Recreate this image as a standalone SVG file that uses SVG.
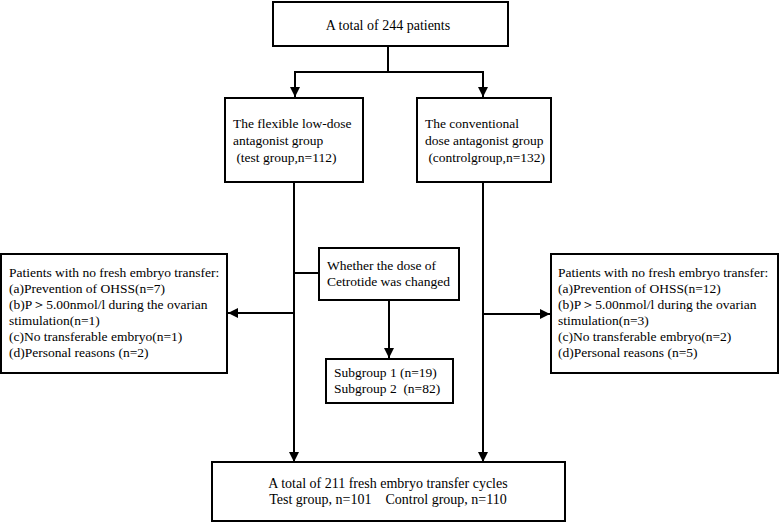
<svg xmlns="http://www.w3.org/2000/svg" width="780" height="523" viewBox="0 0 780 523">
<defs>
<marker id="ah" viewBox="0 0 10 10" refX="10" refY="5" markerWidth="11" markerHeight="10" markerUnits="userSpaceOnUse" orient="auto">
<path d="M0,0 L10,5 L0,10 z" fill="#000"/>
</marker>
</defs>
<style>
rect{fill:#fff;stroke:#000;stroke-width:2}
text{font-family:"Liberation Serif","Times New Roman",serif;font-size:13.5px;fill:#000;white-space:pre}
.c{text-anchor:middle}
.ln{stroke:#000;stroke-width:2;fill:none}
.ar{stroke:#000;stroke-width:2;fill:none;marker-end:url(#ah)}
</style>
<g id="connectors">
<path class="ln" d="M388,46 V72 M295,72 H483"/>
<path class="ar" d="M295,71 V97"/>
<path class="ar" d="M483,71 V97"/>
<path class="ar" d="M294,182 V462"/>
<path class="ar" d="M483,182 V462"/>
<path class="ar" d="M294,313 H228"/>
<path class="ar" d="M483,314 H550"/>
<path class="ln" d="M294,273 H319"/>
<path class="ar" d="M389,300 V358"/>
</g>
<g id="n-total">
<rect x="273" y="2" width="235" height="44"/>
<text class="c" x="388" y="30" style="font-size:14px">A total of 244 patients</text>
</g>
<g id="n-test">
<rect x="225" y="98" width="138" height="84"/>
<text x="233" y="128">The flexible low-dose</text>
<text x="233" y="145">antagonist group</text>
<text x="233" y="162" xml:space="preserve"> (test group,n=112)</text>
</g>
<g id="n-control">
<rect x="417" y="98" width="134" height="84"/>
<text x="425" y="128">The conventional</text>
<text x="425" y="145">dose antagonist group</text>
<text x="425" y="162" xml:space="preserve"> (controlgroup,n=132)</text>
</g>
<g id="n-left-excl">
<rect x="1" y="254" width="226" height="119"/>
<text x="9" y="277">Patients with no fresh embryo transfer:</text>
<text x="9" y="293">(a)Prevention of OHSS(n=7)</text>
<text x="9" y="309">(b)P＞5.00nmol/l during the ovarian</text>
<text x="9" y="325">stimulation(n=1)</text>
<text x="9" y="341">(c)No transferable embryo(n=1)</text>
<text x="9" y="357">(d)Personal reasons (n=2)</text>
</g>
<g id="n-dose">
<rect x="319" y="248" width="140" height="52"/>
<text x="327" y="270">Whether the dose of</text>
<text x="327" y="286">Cetrotide was changed</text>
</g>
<g id="n-sub">
<rect x="326" y="359" width="127" height="44"/>
<text x="334" y="377">Subgroup 1 (n=19)</text>
<text x="334" y="393" xml:space="preserve">Subgroup 2  (n=82)</text>
</g>
<g id="n-right-excl">
<rect x="551" y="254" width="227" height="119"/>
<text x="558" y="277">Patients with no fresh embryo transfer:</text>
<text x="558" y="293">(a)Prevention of OHSS(n=12)</text>
<text x="558" y="309">(b)P＞5.00nmol/l during the ovarian</text>
<text x="558" y="325">stimulation(n=3)</text>
<text x="558" y="341">(c)No transferable embryo(n=2)</text>
<text x="558" y="357">(d)Personal reasons (n=5)</text>
</g>
<g id="n-final">
<rect x="212" y="462" width="353" height="59"/>
<text class="c" x="388" y="488" style="font-size:14px">A total of 211 fresh embryo transfer cycles</text>
<text class="c" x="388" y="504" style="font-size:14px" xml:space="preserve">Test group, n=101    Control group, n=110</text>
</g>
</svg>
